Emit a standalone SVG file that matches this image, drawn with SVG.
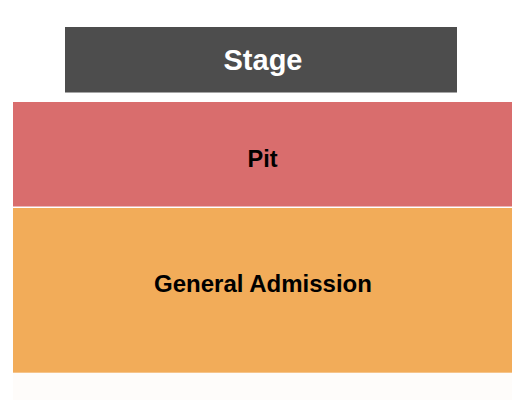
<svg xmlns="http://www.w3.org/2000/svg" width="525" height="400" viewBox="0 0 525 400">
<style>
.lbl{font-family:"Liberation Sans",Arial,sans-serif;font-weight:bold;text-anchor:middle}
</style>
<rect x="0" y="0" width="525" height="400" fill="#ffffff"/>
<rect x="13" y="373" width="499" height="27" fill="#fefcfa"/>
<g id="stage">
<rect x="65" y="27" width="392" height="65.5" fill="#4d4d4d"/>
<text class="lbl" x="263" y="70" font-size="29" fill="#ffffff">Stage</text>
</g>
<g id="pit">
<rect x="13" y="102" width="499" height="104.5" fill="#d96d6d"/>
<text class="lbl" x="262.5" y="167" font-size="23.5" fill="#000000">Pit</text>
</g>
<g id="general-admission">
<rect x="13" y="208" width="499" height="164.7" fill="#f2ac59"/>
<text class="lbl" x="263" y="292" font-size="24" fill="#000000">General Admission</text>
</g>
<g id="connectors"></g>
</svg>
